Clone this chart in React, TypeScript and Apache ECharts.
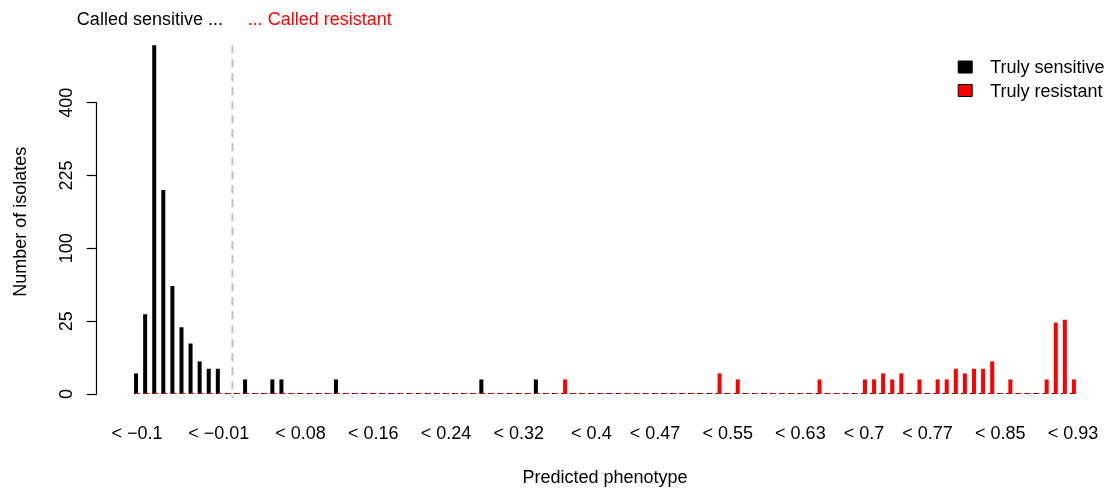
import React, { useEffect, useRef } from "react";
import * as echarts from "echarts";

// Upper bound of each predicted-phenotype bin (bin width 0.01)
const binUpper = [
  -0.1, -0.09, -0.08, -0.07, -0.06, -0.05, -0.04, -0.03, -0.02, -0.01,
  0, 0.01, 0.02, 0.03, 0.04, 0.05, 0.06, 0.07, 0.08, 0.09,
  0.1, 0.11, 0.12, 0.13, 0.14, 0.15, 0.16, 0.17, 0.18, 0.19,
  0.2, 0.21, 0.22, 0.23, 0.24, 0.25, 0.26, 0.27, 0.28, 0.29,
  0.3, 0.31, 0.32, 0.33, 0.34, 0.35, 0.36, 0.37, 0.38, 0.39,
  0.4, 0.41, 0.42, 0.43, 0.44, 0.45, 0.46, 0.47, 0.48, 0.49,
  0.5, 0.51, 0.52, 0.53, 0.54, 0.55, 0.56, 0.57, 0.58, 0.59,
  0.6, 0.61, 0.62, 0.63, 0.64, 0.65, 0.66, 0.67, 0.68, 0.69,
  0.7, 0.71, 0.72, 0.73, 0.74, 0.75, 0.76, 0.77, 0.78, 0.79,
  0.8, 0.81, 0.82, 0.83, 0.84, 0.85, 0.86, 0.87, 0.88, 0.89,
  0.9, 0.91, 0.92, 0.93,
];

// Isolates per bin, truly sensitive
const sensitive = [
  2, 30, 573, 196, 55, 21, 12, 5, 3, 3,
  0, 0, 1, 0, 0, 1, 1, 0, 0, 0,
  0, 0, 1, 0, 0, 0, 0, 0, 0, 0,
  0, 0, 0, 0, 0, 0, 0, 0, 1, 0,
  0, 0, 0, 0, 1, 0, 0, 0, 0, 0,
  0, 0, 0, 0, 0, 0, 0, 0, 0, 0,
  0, 0, 0, 0, 0, 0, 0, 0, 0, 0,
  0, 0, 0, 0, 0, 0, 0, 0, 0, 0,
  0, 0, 0, 0, 0, 0, 0, 0, 0, 0,
  0, 0, 0, 0, 0, 0, 0, 0, 0, 0,
  0, 0, 0, 0,
];

// Isolates per bin, truly resistant
const resistant = [
  0, 0, 0, 0, 0, 0, 0, 0, 0, 0,
  0, 0, 0, 0, 0, 0, 0, 0, 0, 0,
  0, 0, 0, 0, 0, 0, 0, 0, 0, 0,
  0, 0, 0, 0, 0, 0, 0, 0, 0, 0,
  0, 0, 0, 0, 0, 0, 0, 1, 0, 0,
  0, 0, 0, 0, 0, 0, 0, 0, 0, 0,
  0, 0, 0, 0, 2, 0, 1, 0, 0, 0,
  0, 0, 0, 0, 0, 1, 0, 0, 0, 0,
  1, 1, 2, 1, 2, 0, 1, 0, 1, 1,
  3, 2, 3, 3, 5, 0, 1, 0, 0, 0,
  1, 24, 26, 1,
];

// Bins whose label is printed under the axis
const labelledBins = [0, 9, 18, 26, 34, 42, 50, 57, 65, 73, 80, 87, 95, 103];
// Count axis ticks (drawn on a square-root scale)
const yTicks = [0, 25, 100, 225, 400];
// Bin edge separating "called sensitive" from "called resistant"
const cutoffEdge = 11;

const FONT = '"Liberation Sans", Arial, Helvetica, sans-serif';
const RED = "#FF0000";
const FS = 18;

function fmtBound(v: number): string {
  const s = String(Number(v.toFixed(2)));
  return "< " + s.replace("-", "\u2212");
}

export default function App() {
  const ref = useRef<HTMLDivElement>(null);

  useEffect(() => {
    const chart = echarts.init(ref.current!, null, { renderer: "svg" });
    const yMaxRoot = Math.sqrt(yTicks[yTicks.length - 1]);
    const step = Math.sqrt(yTicks[1]);

    chart.setOption({
      animation: false,
      textStyle: { fontFamily: FONT },
      grid: { left: 132.5, right: 30.5, top: 102.7, bottom: 94.7 },
      xAxis: [
        {
          type: "category",
          data: binUpper.map(fmtBound),
          axisLine: { show: false },
          axisTick: { show: false },
          axisLabel: {
            interval: (i: number) => labelledBins.includes(i),
            fontSize: FS,
            color: "#000",
            fontFamily: FONT,
            margin: 30,
            hideOverlap: false,
          },
          name: "Predicted phenotype",
          nameLocation: "middle",
          nameGap: 74,
          nameTextStyle: { fontSize: FS, color: "#000", fontFamily: FONT },
        },
        { type: "value", min: 0, max: binUpper.length, show: false },
      ],
      yAxis: {
        type: "value",
        min: 0,
        max: yMaxRoot,
        interval: step,
        offset: 35.8,
        axisLine: { show: true, onZero: false, lineStyle: { color: "#000", width: 1.2 } },
        axisTick: { show: true, length: 10, lineStyle: { color: "#000", width: 1.2 } },
        splitLine: { show: false },
        axisLabel: {
          formatter: (v: number) => String(Math.round(v * v)),
          rotate: 90,
          fontSize: FS,
          color: "#000",
          fontFamily: FONT,
          margin: 22,
        },
      },
      legend: {
        orient: "vertical",
        left: 957.7,
        top: 58,
        padding: 0,
        itemWidth: 14,
        itemHeight: 12,
        itemGap: 5.5,
        icon: "rect",
        selectedMode: false,
        textStyle: { fontSize: FS, color: "#000", fontFamily: FONT, padding: [0, 0, 0, 13] },
        data: [
          { name: "Truly sensitive", itemStyle: { color: "#000", borderColor: "#000", borderWidth: 1 } },
          { name: "Truly resistant", itemStyle: { color: RED, borderColor: "#000", borderWidth: 1 } },
        ],
      },
      series: [
        {
          name: "Truly sensitive",
          type: "bar",
          data: sensitive.map(Math.sqrt),
          barWidth: 4,
          barGap: "-50%",
          barMinHeight: 1,
          clip: false,
          itemStyle: { color: "#000" },
        },
        {
          name: "Truly resistant",
          type: "bar",
          data: resistant.map(Math.sqrt),
          barWidth: 4,
          barGap: "-50%",
          barMinHeight: 1,
          clip: false,
          itemStyle: { color: RED },
        },
        { type: "scatter", xAxisIndex: 1, data: [], silent: true },
      ],
    });

    const lineX = chart.convertToPixel({ xAxisIndex: 1 }, cutoffEdge) as number;
    const peak = Math.max(...sensitive, ...resistant);
    const yPeak = chart.convertToPixel({ yAxisIndex: 0 }, Math.sqrt(peak)) as number;
    const yBase = chart.convertToPixel({ yAxisIndex: 0 }, 0) as number;
    const yLow = yBase + 4;

    chart.setOption({
      graphic: [
        {
          type: "line",
          silent: true,
          shape: { x1: lineX, y1: yPeak, x2: lineX, y2: yLow },
          style: { stroke: "#BEBEBE", lineWidth: 2, lineDash: [8, 6] },
        },
        {
          type: "text",
          x: lineX - 9.5,
          y: 18.5,
          style: {
            text: "Called sensitive ...",
            fill: "#000",
            fontSize: FS,
            fontFamily: FONT,
            align: "right",
            verticalAlign: "middle",
          },
        },
        {
          type: "text",
          x: lineX + 15.2,
          y: 18.5,
          style: {
            text: "... Called resistant",
            fill: RED,
            fontSize: FS,
            fontFamily: FONT,
            align: "left",
            verticalAlign: "middle",
          },
        },
        {
          type: "text",
          x: 20,
          y: (yPeak + yLow) / 2,
          rotation: Math.PI / 2,
          style: {
            text: "Number of isolates",
            fill: "#000",
            fontSize: FS,
            fontFamily: FONT,
            align: "center",
            verticalAlign: "middle",
          },
        },
      ],
    });

    return () => chart.dispose();
  }, []);

  return (
    <div
      ref={ref}
      style={{ position: "fixed", left: 0, top: 0, width: 1108, height: 491 }}
    />
  );
}
